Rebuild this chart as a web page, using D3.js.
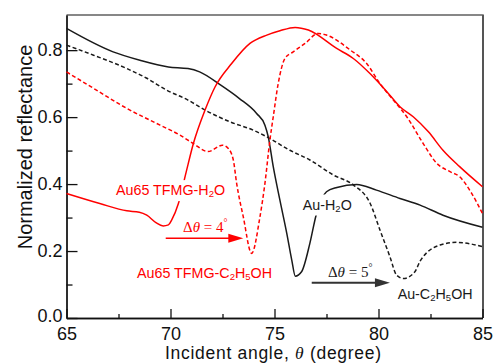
<!DOCTYPE html>
<html><head><meta charset="utf-8">
<script src="https://cdn.jsdelivr.net/npm/d3@7"></script>
<style>body{margin:0;background:#fff}svg{display:block}</style>
</head><body><svg id="c" width="493" height="363"></svg>
<script>
// ---- data ----
const auH2O_angle = [65, 67.24, 68.53, 69.9, 70.84, 71.4, 72.4, 73.3, 74.14, 74.54, 74.7, 74.94, 75.26, 75.59, 75.83, 76.0, 76.3, 76.7, 77.0, 77.5, 78.0, 78.95, 79.9, 81.03, 82.0, 83.1, 85];
const auH2O_R     = [0.865, 0.795, 0.770, 0.750, 0.745, 0.735, 0.696, 0.656, 0.611, 0.576, 0.541, 0.452, 0.352, 0.253, 0.173, 0.125, 0.138, 0.223, 0.307, 0.377, 0.390, 0.399, 0.382, 0.357, 0.337, 0.307, 0.271];

const auEtOH_angle = [65, 66.3, 67.9, 68.86, 69.8, 70.84, 71.66, 72.86, 73.98, 74.78, 75.74, 76.7, 77.83, 78.8, 79.6, 80.07, 80.55, 80.87, 81.2, 81.75, 82.0, 82.96, 83.76, 85];
const auEtOH_R     = [0.815, 0.785, 0.745, 0.716, 0.681, 0.651, 0.621, 0.586, 0.561, 0.536, 0.501, 0.472, 0.427, 0.397, 0.342, 0.263, 0.183, 0.128, 0.118, 0.138, 0.170, 0.218, 0.226, 0.213];

const tfmgH2O_angle = [65, 66.6, 67.9, 68.5, 68.86, 69.3, 69.65, 69.9, 70.06, 70.38, 70.75, 71.1, 71.66, 72.14, 72.94, 73.82, 74.63, 75.26, 75.99, 76.63, 77.99, 78.79, 79.59, 80.4, 81.03, 81.67, 82.4, 83.1, 83.9, 85];
const tfmgH2O_R     = [0.372, 0.342, 0.320, 0.316, 0.307, 0.285, 0.275, 0.278, 0.293, 0.342, 0.435, 0.521, 0.621, 0.690, 0.760, 0.820, 0.845, 0.858, 0.868, 0.860, 0.805, 0.775, 0.730, 0.676, 0.631, 0.601, 0.556, 0.501, 0.452, 0.392];

const tfmgEtOH_angle = [65, 66.3, 67.9, 69.5, 70.46, 71.1, 71.8, 72.5, 72.78, 73.02, 73.18, 73.5, 73.9, 74.3, 74.54, 74.78, 74.94, 75.18, 75.5, 75.9, 76.47, 77.1, 77.5, 78.65, 79.43, 80.07, 80.71, 81.36, 82.15, 82.8, 83.44, 83.9, 84.48, 85];
const tfmgEtOH_R     = [0.735, 0.686, 0.626, 0.576, 0.546, 0.521, 0.497, 0.516, 0.506, 0.472, 0.402, 0.302, 0.193, 0.302, 0.402, 0.532, 0.601, 0.701, 0.775, 0.795, 0.820, 0.850, 0.845, 0.800, 0.760, 0.700, 0.651, 0.601, 0.521, 0.462, 0.437, 0.422, 0.372, 0.312];

const xTickValues = [65, 70, 75, 80, 85];
const xMinorTicks = [67.5, 72.5, 77.5, 82.5];
const yTickValues = [0, 0.2, 0.4, 0.6, 0.8];
const yMinorTicks = [0.1, 0.3, 0.5, 0.7];

const xTitle = "Incident angle, ";
const yTitle = "Normalized reflectance";

// ---- chart ----
const svg = d3.select("#c");
const L = 66.5, R = 482.5, T = 15, B = 318;
const x = d3.scaleLinear().domain([65, 85]).range([L, R]);
const y = d3.scaleLinear().domain([0, 0.905]).range([B, T]);
const SANS = "'Liberation Sans', Arial, Helvetica, sans-serif";
const SERIF = "'Liberation Serif', 'Times New Roman', serif";
const RED = "#ff0000", BLK = "#1a1a1a";

// frame top & right
svg.append("line").attr("x1", L).attr("x2", R).attr("y1", T).attr("y2", T).attr("stroke", "#111").attr("stroke-width", 1.2);
svg.append("line").attr("x1", R + 0.5).attr("x2", R + 0.5).attr("y1", T - 0.5).attr("y2", B).attr("stroke", "#555").attr("stroke-width", 2);

// axes
const gx = svg.append("g").attr("transform", `translate(0,${B})`)
  .call(d3.axisBottom(x).tickValues(xTickValues).tickSizeInner(-9).tickSizeOuter(0).tickPadding(8.8).tickFormat(d3.format("d")));
const gxm = svg.append("g").attr("transform", `translate(0,${B})`)
  .call(d3.axisBottom(x).tickValues(xMinorTicks).tickSizeInner(-4).tickSizeOuter(0).tickFormat(""));
const gy = svg.append("g").attr("transform", `translate(${L},0)`)
  .call(d3.axisLeft(y).tickValues(yTickValues).tickSizeInner(-11).tickSizeOuter(0).tickPadding(4).tickFormat(d3.format(".1f")));
const gym = svg.append("g").attr("transform", `translate(${L},0)`)
  .call(d3.axisLeft(y).tickValues(yMinorTicks).tickSizeInner(-6).tickSizeOuter(0).tickFormat(""));
[gx, gxm, gy, gym].forEach(g => {
  g.selectAll("path,line").attr("stroke", "#111").attr("stroke-width", 1.3);
  g.selectAll("text").attr("fill", "#111").attr("font-family", SANS).attr("font-size", 18);
});
// keep "0.0" and "65" from colliding at the corner
gy.selectAll(".tick text").filter(d => d === 0).attr("dy", "0.2em");

// titles
const xt = svg.append("text").attr("x", 273).attr("y", 359.2).attr("text-anchor", "middle")
  .attr("font-family", SANS).attr("font-size", 17.5).attr("fill", "#111")
  .attr("textLength", 216).attr("lengthAdjust", "spacing");
xt.append("tspan").text(xTitle);
xt.append("tspan").attr("font-family", SERIF).attr("font-style", "italic").text("θ");
xt.append("tspan").text(" (degree)");
svg.append("text").attr("transform", "translate(32,147) rotate(-90)").attr("text-anchor", "middle")
  .attr("font-family", SANS).attr("font-size", 20).attr("fill", "#111").text(yTitle);

// curves
const line = d3.line().x(d => x(d[0])).y(d => y(d[1])).curve(d3.curveMonotoneX);
function series(a, r, color, dash) {
  svg.append("path").datum(a.map((v, i) => [v, r[i]]))
    .attr("d", line).attr("fill", "none").attr("stroke", color).attr("stroke-width", 1.5)
    .attr("stroke-dasharray", dash || null);
}
series(auH2O_angle, auH2O_R, BLK);
series(auEtOH_angle, auEtOH_R, BLK, "4,2.5");
series(tfmgH2O_angle, tfmgH2O_R, RED);
series(tfmgEtOH_angle, tfmgEtOH_R, RED, "4,2.5");

// labels (subscripts as smaller, lowered tspans)
function label(parts, tx, ty, color, bg) {
  const t = svg.append("text").attr("x", x(tx)).attr("y", y(ty))
    .attr("font-family", SANS).attr("font-size", 14.3).attr("fill", color);
  let prevSub = false;
  parts.forEach(([s, sub]) => {
    const sp = t.append("tspan").text(s);
    if (sub && !prevSub) sp.attr("font-size", 9.5).attr("dy", 2);
    else if (sub) sp.attr("font-size", 9.5);
    else if (prevSub) sp.attr("dy", -2);
    prevSub = !!sub;
  });
  if (bg) {
    const b = t.node().getBBox();
    svg.insert("rect", () => t.node()).attr("x", b.x - 1).attr("y", b.y - 2)
      .attr("width", b.width + 2).attr("height", b.height + 4).attr("fill", "#fff");
  }
}
label([["Au65 TFMG-H", 0], ["2", 1], ["O", 0]], 67.38, 0.367, RED, true);
label([["Au65 TFMG-C", 0], ["2", 1], ["H", 0], ["5", 1], ["OH", 0]], 68.39, 0.119, RED, false);
label([["Au-H", 0], ["2", 1], ["O", 0]], 76.36, 0.324, BLK, true);
label([["Au-C", 0], ["2", 1], ["H", 0], ["5", 1], ["OH", 0]], 80.92, 0.057, BLK, false);

function delta(val, tx, ty, color) {
  const t = svg.append("text").attr("x", x(tx)).attr("y", y(ty))
    .attr("font-family", SERIF).attr("font-size", 15).attr("fill", color);
  t.append("tspan").text("Δ");
  t.append("tspan").attr("font-style", "italic").text("θ");
  t.append("tspan").text(" = " + val);
  t.append("tspan").attr("font-size", 10).attr("dy", -6).text("°");
}
delta(4, 70.6, 0.257, RED);
delta(5, 77.57, 0.122, BLK);

function arrow(x1, x2, yv, color, w) {
  const X1 = x(x1), X2 = x(x2), Y = y(yv);
  svg.append("line").attr("x1", X1).attr("x2", X2 - 10).attr("y1", Y).attr("y2", Y)
    .attr("stroke", color).attr("stroke-width", w);
  svg.append("path").attr("d", `M${X2},${Y}L${X2 - 15},${Y - 4.5}L${X2 - 15},${Y + 4.5}Z`).attr("fill", color);
}
arrow(69.77, 73.5, 0.238, RED, 1.5);
arrow(76.79, 80.55, 0.105, "#333", 2);
</script></body></html>
